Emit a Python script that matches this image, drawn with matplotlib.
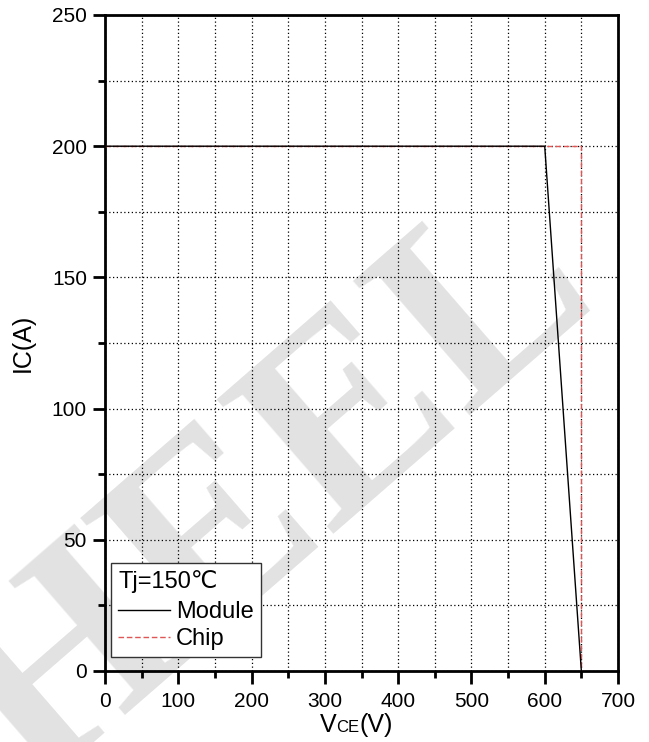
import matplotlib
matplotlib.use('Agg')
import matplotlib.pyplot as plt
from matplotlib.offsetbox import TextArea, HPacker, AnchoredOffsetbox

plt.rcParams['font.family'] = ['Liberation Sans', 'DejaVu Sans']

# RBSOA curve points
vce_module = [0, 600, 650]
ic_module = [200, 200, 0]
vce_chip = [0, 650, 650]
ic_chip = [200, 200, 0]

fig = plt.figure(figsize=(6.49, 7.42), dpi=100)
ax = fig.add_axes([105 / 649, 1 - 671 / 742, 513 / 649, 656 / 742])
ax.set_zorder(1)
ax.patch.set_alpha(0)

# watermark behind the plot
fig.text(0.425, 0.335, 'HEEL', family='Liberation Serif', fontsize=195,
         weight='bold', color='#e2e2e2', rotation=41, ha='center',
         va='center', zorder=0)

ax.plot(vce_chip, ic_chip, color='#e05555', lw=1, ls=(0, (4, 2)), label='Chip', zorder=3)
ax.plot(vce_module, ic_module, color='black', lw=1, label='Module', zorder=4)

ax.set_xlim(0, 700)
ax.set_ylim(0, 250)
ax.set_xticks(range(0, 701, 100))
ax.set_xticks(range(50, 701, 100), minor=True)
ax.set_yticks(range(0, 251, 50))
ax.set_yticks(range(25, 251, 50), minor=True)
ax.tick_params(which='major', direction='out', length=9, width=2, labelsize=15)
ax.tick_params(axis='x', which='major', pad=6)
ax.tick_params(axis='y', which='major', pad=4)
ax.tick_params(which='minor', direction='out', length=5, width=2)
ax.grid(True, which='both', color='black', ls=(0, (1, 2)), lw=0.9)
for s in ax.spines.values():
    s.set_linewidth(2)

# legend with title
h, l = ax.get_legend_handles_labels()
leg = ax.legend([h[1], h[0]], [l[1], l[0]], title='Tj=150℃', loc='lower left',
                bbox_to_anchor=(0.012, 0.021), fontsize=17, title_fontsize=17,
                frameon=True, fancybox=False, edgecolor='black', framealpha=1,
                handlelength=2.2, handletextpad=0.25, borderpad=0.3,
                labelspacing=0.2, borderaxespad=0)
leg._legend_box.align = 'left'
leg._legend_box.sep = 6
leg.get_frame().set_linewidth(1)
leg.get_frame().set_edgecolor('#333333')

# x label with smaller CE
parts = [TextArea('V', textprops=dict(fontsize=18)),
         TextArea('CE', textprops=dict(fontsize=12)),
         TextArea('(V)', textprops=dict(fontsize=18))]
box = HPacker(children=parts, align='baseline', pad=0, sep=0)
anch = AnchoredOffsetbox(loc='upper center', child=box, frameon=False,
                         bbox_to_anchor=(0.49, -0.064), bbox_transform=ax.transAxes,
                         borderpad=0, pad=0)
ax.add_artist(anch)
ax.set_ylabel('IC(A)', fontsize=18, labelpad=12)

fig.savefig('out.png', dpi=100)
